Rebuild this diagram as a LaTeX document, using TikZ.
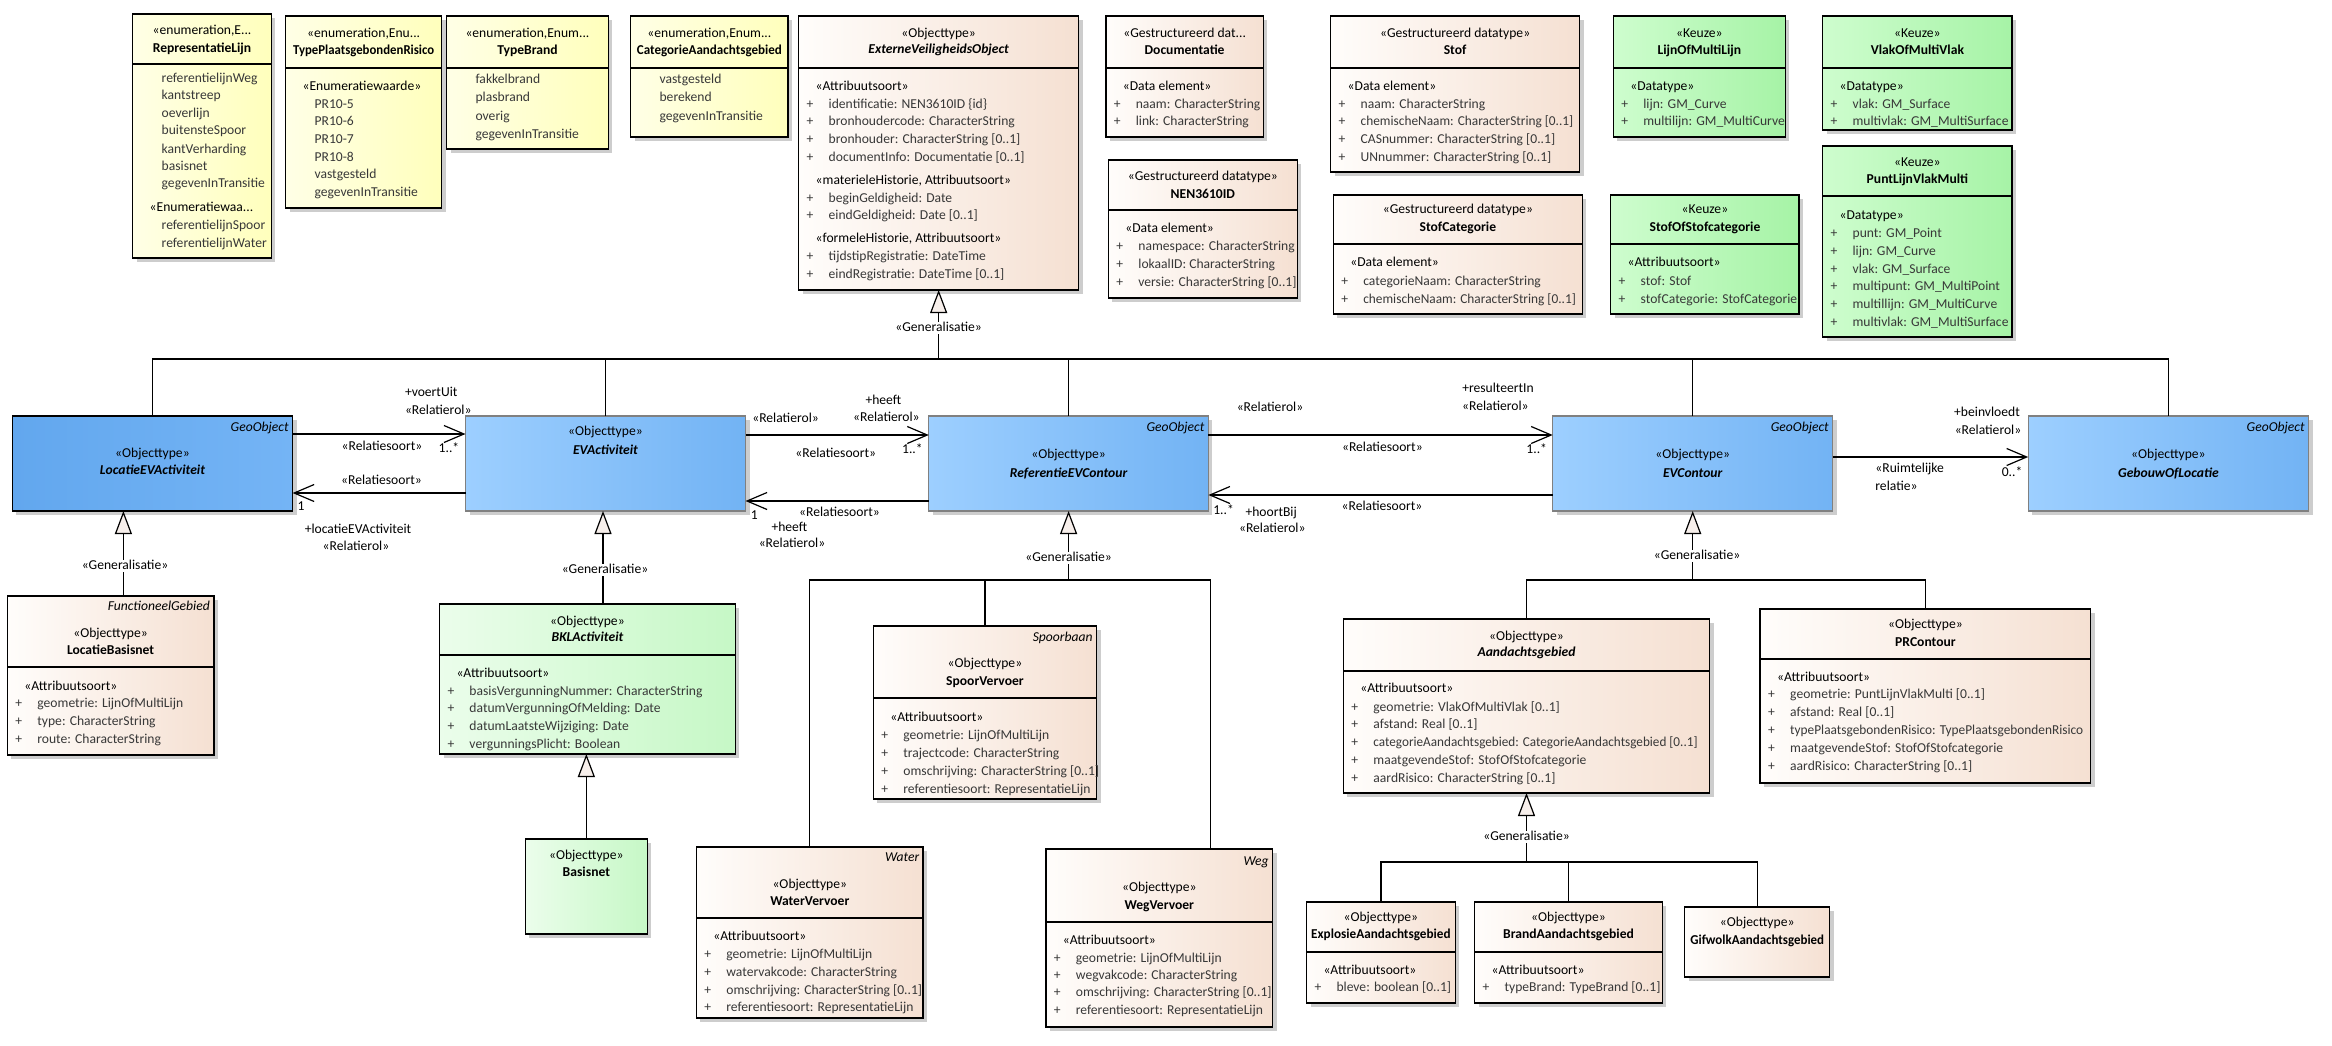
\documentclass[tikz,border=0pt]{standalone}
\usepackage{fontspec}
\setmainfont{Carlito}
\usepackage{graphicx}
\usetikzlibrary{arrows.meta}
\definecolor{enumL}{HTML}{FFFFE6}
\definecolor{enumR}{HTML}{FFFFBC}
\definecolor{objL}{HTML}{FFFDFB}
\definecolor{objR}{HTML}{F5E0D2}
\definecolor{kL}{HTML}{CEFDCE}
\definecolor{kR}{HTML}{A6F3A6}
\definecolor{bL}{HTML}{EBFDEB}
\definecolor{bR}{HTML}{C6F8C6}
\definecolor{blL}{HTML}{9DCFFF}
\definecolor{blR}{HTML}{72B3F4}
\definecolor{lvL}{HTML}{62A7EE}
\definecolor{lvM}{HTML}{93C7FB}
\definecolor{lvR}{HTML}{74B4F5}
\definecolor{attrc}{HTML}{383838}
\definecolor{trif}{HTML}{F7EFEB}
\definecolor{shadowc}{HTML}{CDCDCD}
\newcommand\fs{\fontsize{13.6}{15}\selectfont}
\newcommand\Sq[2]{\scalebox{#1}[1]{#2}}
\newcounter{tn}
\newcommand\Tx[3]{\stepcounter{tn}\node[#1] (t\arabic{tn}) at #2 {#3};}
\newcommand\Cls[6]{\fill[shadowc] ({#2+4},{#3+4}) rectangle ({#4+4},{#5+4});
  \node[#6,minimum width={(#4-#2)*1pt},minimum height={(#5-#3)*1pt}] (#1) at (#2,#3) {};}
\newcommand\Dv[2]{\draw[divl] (#1.west |- 0,#2) -- (#1.east |- 0,#2);}
\newcommand\Hd[3]{\Tx{sttx}{(#1.center |- 0,#2)}{#3}}
\newcommand\Hb[3]{\Tx{sttx,font=\fs\bfseries}{(#1.center |- 0,#2)}{#3}}
\newcommand\Hi[3]{\Tx{sttx,font=\fs\bfseries\itshape}{(#1.center |- 0,#2)}{#3}}
\newcommand\Hg[3]{\Tx{sttx,font=\fs\itshape,anchor=east,xshift=-4pt}{(#1.east |- 0,#2)}{#3}}
\newcommand\Bs[3]{\Tx{sttx,anchor=west,xshift=17pt}{(#1.west |- 0,#2)}{#3}}
\newcommand\Ba[3]{\Tx{attx,anchor=west,xshift=8pt}{(#1.west |- 0,#2)}{\makebox[22pt][l]{+}#3}}
\newcommand\Be[3]{\Tx{attx,anchor=west,xshift=29pt}{(#1.west |- 0,#2)}{#3}}
\newcommand\Lb[3]{\Tx{sttx}{(#1,#2)}{#3}}
\newcommand\Lw[3]{\Tx{sttx,anchor=west}{(#1,#2)}{#3}}
\newcommand\Gl[2]{\Tx{sttx,fill=white,inner xsep=2pt}{#1}{#2}}
\tikzset{
  sttx/.style={font=\fs,text=black,inner sep=0pt,outer sep=0pt,text height=9.5pt,text depth=2.5pt},
  attx/.style={sttx,text=attrc},
  box/.style={draw=black,line width=1.5pt,inner sep=0pt,outer sep=0pt,anchor=north west},
  enumc/.style={box,left color=enumL,right color=enumR},
  objc/.style={box,left color=objL,right color=objR},
  keuzec/.style={box,left color=kL,right color=kR},
  bklc/.style={box,left color=bL,right color=bR},
  bluec/.style={box,draw=black!50,line width=1.2pt,left color=blL,right color=blR},
  lvc/.style={box,left color=lvL,middle color=lvM,right color=lvR},
  divl/.style={line width=1.5pt},
  genl/.style={line width=1.2pt},
  gent/.style={genl,-{Triangle[length=23pt,width=17pt,fill=trif,line width=1.2pt]}},
  assoc/.style={line width=1.2pt,-{Straight Barb[length=20pt,width=17pt,line width=1.2pt]}}
}
\begin{document}
\begin{tikzpicture}[x=1pt,y=-1pt]
\fill[white] (0,0) rectangle (2332,1045);
\path[use as bounding box] (0,0) rectangle (2332,1045);

% ---------- top row ----------
\Cls{RL}{132.7}{14}{271.4}{258}{enumc}
\Dv{RL}{64}
\Hd{RL}{31}{«enumeration,E...}
\Hb{RL}{49}{RepresentatieLijn}
\Be{RL}{79}{referentielijnWeg}
\Be{RL}{96}{kantstreep}
\Be{RL}{114}{oeverlijn}
\Be{RL}{131}{buitensteSpoor}
\Be{RL}{150}{kantVerharding}
\Be{RL}{167}{basisnet}
\Be{RL}{184}{gegevenInTransitie}
\Bs{RL}{208}{«Enumeratiewaa...}
\Be{RL}{226}{referentielijnSpoor}
\Be{RL}{244}{referentielijnWater}

\Cls{TPR}{285.6}{16}{441.7}{208}{enumc}
\Dv{TPR}{68}
\Hd{TPR}{34}{«enumeration,Enu...}
\Hb{TPR}{51}{\Sq{0.94}{TypePlaatsgebondenRisico}}
\Bs{TPR}{87}{«Enumeratiewaarde»}
\Be{TPR}{105}{PR10-5}
\Be{TPR}{122}{PR10-6}
\Be{TPR}{140}{PR10-7}
\Be{TPR}{158}{PR10-8}
\Be{TPR}{175}{vastgesteld}
\Be{TPR}{193}{gegevenInTransitie}

\Cls{TB}{446.6}{16}{608.3}{149}{enumc}
\Dv{TB}{68}
\Hd{TB}{34}{«enumeration,Enum...}
\Hb{TB}{51}{TypeBrand}
\Be{TB}{80}{fakkelbrand}
\Be{TB}{98}{plasbrand}
\Be{TB}{117}{overig}
\Be{TB}{135}{gegevenInTransitie}

\Cls{CAG}{630.6}{16}{788.2}{137}{enumc}
\Dv{CAG}{68}
\Hd{CAG}{34}{«enumeration,Enum...}
\Hb{CAG}{51}{\Sq{0.96}{CategorieAandachtsgebied}}
\Be{CAG}{80}{vastgesteld}
\Be{CAG}{98}{berekend}
\Be{CAG}{117}{gegevenInTransitie}

\Cls{EVO}{798.7}{16}{1078.6}{290}{objc}
\Dv{EVO}{68}
\Hd{EVO}{34}{«Objecttype»}
\Hi{EVO}{50}{ExterneVeiligheidsObject}
\Bs{EVO}{87}{«Attribuutsoort»}
\Ba{EVO}{105}{identificatie: NEN3610ID \{id\}}
\Ba{EVO}{122}{bronhoudercode: CharacterString}
\Ba{EVO}{140}{bronhouder: CharacterString [0..1]}
\Ba{EVO}{158}{documentInfo: Documentatie [0..1]}
\Bs{EVO}{181}{«materieleHistorie, Attribuutsoort»}
\Ba{EVO}{199}{beginGeldigheid: Date}
\Ba{EVO}{216}{eindGeldigheid: Date [0..1]}
\Bs{EVO}{239}{«formeleHistorie, Attribuutsoort»}
\Ba{EVO}{257}{tijdstipRegistratie: DateTime}
\Ba{EVO}{275}{eindRegistratie: DateTime [0..1]}

\Cls{DOC}{1105.8}{16}{1263.4}{137}{objc}
\Dv{DOC}{68}
\Hd{DOC}{34}{«Gestructureerd dat...}
\Hb{DOC}{51}{Documentatie}
\Bs{DOC}{87}{«Data element»}
\Ba{DOC}{105}{naam: CharacterString}
\Ba{DOC}{122}{link: CharacterString}

\Cls{NEN}{1108.4}{160}{1297.3}{298}{objc}
\Dv{NEN}{210}
\Hd{NEN}{177}{«Gestructureerd datatype»}
\Hb{NEN}{195}{NEN3610ID}
\Bs{NEN}{229}{«Data element»}
\Ba{NEN}{247}{namespace: CharacterString}
\Ba{NEN}{265}{lokaalID: CharacterString}
\Ba{NEN}{283}{versie: CharacterString [0..1]}

\Cls{STOF}{1330.7}{16}{1579.5}{172}{objc}
\Dv{STOF}{68}
\Hd{STOF}{34}{«Gestructureerd datatype»}
\Hb{STOF}{51}{Stof}
\Bs{STOF}{87}{«Data element»}
\Ba{STOF}{105}{naam: CharacterString}
\Ba{STOF}{122}{\Sq{0.98}{chemischeNaam: CharacterString [0..1]}}
\Ba{STOF}{140}{CASnummer: CharacterString [0..1]}
\Ba{STOF}{158}{UNnummer: CharacterString [0..1]}

\Cls{SC}{1333.3}{195}{1582.4}{314}{objc}
\Dv{SC}{244}
\Hd{SC}{210}{«Gestructureerd datatype»}
\Hb{SC}{228}{StofCategorie}
\Bs{SC}{263}{«Data element»}
\Ba{SC}{282}{categorieNaam: CharacterString}
\Ba{SC}{300}{\Sq{0.98}{chemischeNaam: CharacterString [0..1]}}

\Cls{LML}{1613.3}{16}{1785.4}{137}{keuzec}
\Dv{LML}{68}
\Hd{LML}{34}{«Keuze»}
\Hb{LML}{51}{LijnOfMultiLijn}
\Bs{LML}{87}{«Datatype»}
\Ba{LML}{105}{lijn: GM\_Curve}
\Ba{LML}{122}{multilijn: GM\_MultiCurve}

\Cls{SOS}{1610.7}{195}{1799.2}{314}{keuzec}
\Dv{SOS}{244}
\Hd{SOS}{210}{«Keuze»}
\Hb{SOS}{228}{StofOfStofcategorie}
\Bs{SOS}{263}{«Attribuutsoort»}
\Ba{SOS}{282}{stof: Stof}
\Ba{SOS}{300}{stofCategorie: StofCategorie}

\Cls{VMV}{1822.6}{16}{2012.2}{130}{keuzec}
\Dv{VMV}{68}
\Hd{VMV}{34}{«Keuze»}
\Hb{VMV}{51}{VlakOfMultiVlak}
\Bs{VMV}{87}{«Datatype»}
\Ba{VMV}{105}{vlak: GM\_Surface}
\Ba{VMV}{122}{multivlak: GM\_MultiSurface}

\Cls{PLVM}{1822.6}{146}{2012.2}{337}{keuzec}
\Dv{PLVM}{196}
\Hd{PLVM}{163}{«Keuze»}
\Hb{PLVM}{180}{PuntLijnVlakMulti}
\Bs{PLVM}{216}{«Datatype»}
\Ba{PLVM}{234}{punt: GM\_Point}
\Ba{PLVM}{252}{lijn: GM\_Curve}
\Ba{PLVM}{270}{vlak: GM\_Surface}
\Ba{PLVM}{287}{multipunt: GM\_MultiPoint}
\Ba{PLVM}{305}{multillijn: GM\_MultiCurve}
\Ba{PLVM}{323}{multivlak: GM\_MultiSurface}

% ---------- middle row (blue) ----------
\Cls{LEV}{12.3}{416}{292.6}{511}{lvc}
\Hg{LEV}{428}{GeoObject}
\Hd{LEV}{454}{«Objecttype»}
\Hi{LEV}{471}{LocatieEVActiviteit}

\Cls{EVA}{465.5}{416}{745.5}{511}{bluec}
\Hd{EVA}{432}{«Objecttype»}
\Hi{EVA}{451}{EVActiviteit}

\Cls{REF}{928.8}{416}{1208.4}{511}{bluec}
\Hg{REF}{428}{GeoObject}
\Hd{REF}{455}{«Objecttype»}
\Hi{REF}{474}{ReferentieEVContour}

\Cls{EVC}{1552.7}{416}{1832.7}{511}{bluec}
\Hg{EVC}{428}{GeoObject}
\Hd{EVC}{455}{«Objecttype»}
\Hi{EVC}{474}{EVContour}

\Cls{GEB}{2028.2}{416}{2308.6}{511}{bluec}
\Hg{GEB}{428}{GeoObject}
\Hd{GEB}{455}{«Objecttype»}
\Hi{GEB}{474}{GebouwOfLocatie}

% ---------- lower classes ----------
\Cls{LB}{7.4}{596}{213.8}{755}{objc}
\Dv{LB}{667}
\Hg{LB}{607}{FunctioneelGebied}
\Hd{LB}{634}{«Objecttype»}
\Hb{LB}{651}{LocatieBasisnet}
\Bs{LB}{687}{«Attribuutsoort»}
\Ba{LB}{704}{geometrie: LijnOfMultiLijn}
\Ba{LB}{722}{type: CharacterString}
\Ba{LB}{740}{route: CharacterString}

\Cls{BKL}{439.5}{604}{735.4}{754}{bklc}
\Dv{BKL}{655}
\Hd{BKL}{622}{«Objecttype»}
\Hi{BKL}{638}{BKLActiviteit}
\Bs{BKL}{674}{«Attribuutsoort»}
\Ba{BKL}{692}{basisVergunningNummer: CharacterString}
\Ba{BKL}{709}{datumVergunningOfMelding: Date}
\Ba{BKL}{727}{datumLaatsteWijziging: Date}
\Ba{BKL}{745}{vergunningsPlicht: Boolean}

\Cls{BAS}{525.4}{839}{647.3}{934}{bklc}
\Hd{BAS}{856}{«Objecttype»}
\Hb{BAS}{873}{Basisnet}

\Cls{SPV}{873.4}{626}{1096.5}{799}{objc}
\Dv{SPV}{698}
\Hg{SPV}{638}{Spoorbaan}
\Hd{SPV}{664}{«Objecttype»}
\Hb{SPV}{682}{SpoorVervoer}
\Bs{SPV}{718}{«Attribuutsoort»}
\Ba{SPV}{736}{geometrie: LijnOfMultiLijn}
\Ba{SPV}{754}{trajectcode: CharacterString}
\Ba{SPV}{772}{omschrijving: CharacterString [0..1]}
\Ba{SPV}{790}{referentiesoort: RepresentatieLijn}

\Cls{WAV}{696.4}{847}{923.2}{1018}{objc}
\Dv{WAV}{918}
\Hg{WAV}{858}{Water}
\Hd{WAV}{885}{«Objecttype»}
\Hb{WAV}{902}{WaterVervoer}
\Bs{WAV}{937}{«Attribuutsoort»}
\Ba{WAV}{955}{geometrie: LijnOfMultiLijn}
\Ba{WAV}{973}{watervakcode: CharacterString}
\Ba{WAV}{991}{omschrijving: CharacterString [0..1]}
\Ba{WAV}{1008}{referentiesoort: RepresentatieLijn}

\Cls{WGV}{1045.9}{849}{1272.7}{1027}{objc}
\Dv{WGV}{922}
\Hg{WGV}{862}{Weg}
\Hd{WGV}{888}{«Objecttype»}
\Hb{WGV}{906}{WegVervoer}
\Bs{WGV}{941}{«Attribuutsoort»}
\Ba{WGV}{959}{geometrie: LijnOfMultiLijn}
\Ba{WGV}{976}{wegvakcode: CharacterString}
\Ba{WGV}{993}{omschrijving: CharacterString [0..1]}
\Ba{WGV}{1011}{referentiesoort: RepresentatieLijn}

\Cls{AG}{1343.4}{619}{1709.6}{793}{objc}
\Dv{AG}{671}
\Hd{AG}{637}{«Objecttype»}
\Hi{AG}{653}{Aandachtsgebied}
\Bs{AG}{689}{«Attribuutsoort»}
\Ba{AG}{708}{geometrie: VlakOfMultiVlak [0..1]}
\Ba{AG}{725}{afstand: Real [0..1]}
\Ba{AG}{743}{\Sq{0.97}{categorieAandachtsgebied: CategorieAandachtsgebied [0..1]}}
\Ba{AG}{761}{maatgevendeStof: StofOfStofcategorie}
\Ba{AG}{779}{aardRisico: CharacterString [0..1]}

\Cls{PRC}{1760.2}{609}{2090.7}{783}{objc}
\Dv{PRC}{659}
\Hd{PRC}{625}{«Objecttype»}
\Hb{PRC}{643}{PRContour}
\Bs{PRC}{678}{«Attribuutsoort»}
\Ba{PRC}{695}{geometrie: PuntLijnVlakMulti [0..1]}
\Ba{PRC}{713}{afstand: Real [0..1]}
\Ba{PRC}{731}{\Sq{0.98}{typePlaatsgebondenRisico: TypePlaatsgebondenRisico}}
\Ba{PRC}{749}{maatgevendeStof: StofOfStofcategorie}
\Ba{PRC}{767}{aardRisico: CharacterString [0..1]}

\Cls{EXP}{1306.5}{902}{1455.3}{1003}{objc}
\Dv{EXP}{952}
\Hd{EXP}{918}{«Objecttype»}
\Hb{EXP}{935}{\Sq{0.97}{ExplosieAandachtsgebied}}
\Bs{EXP}{971}{«Attribuutsoort»}
\Ba{EXP}{988}{bleve: boolean [0..1]}

\Cls{BRD}{1474.6}{902}{1662.4}{1003}{objc}
\Dv{BRD}{952}
\Hd{BRD}{918}{«Objecttype»}
\Hb{BRD}{935}{BrandAandachtsgebied}
\Bs{BRD}{971}{«Attribuutsoort»}
\Ba{BRD}{988}{typeBrand: TypeBrand [0..1]}

\Cls{GIF}{1684.7}{907}{1829.7}{977}{objc}
\Hd{GIF}{923}{«Objecttype»}
\Hb{GIF}{941}{\Sq{0.95}{GifwolkAandachtsgebied}}

% ---------- generalisations ----------
\coordinate (b1L) at (LEV.north |- 0,359);
\coordinate (b1R) at (GEB.north |- 0,359);
\draw[genl] (LEV.north) -- (b1L) -- (b1R) -- (GEB.north);
\draw[genl] (EVA.north) -- (EVA.north |- b1L);
\draw[genl] (REF.north) -- (REF.north |- b1L);
\draw[genl] (EVC.north) -- (EVC.north |- b1L);
\draw[gent] (EVO.south |- b1L) -- (EVO.south);
\Gl{(EVO.south |- 0,328)}{«Generalisatie»}

\coordinate (g2) at (123.4,0);
\draw[gent] (LB.north -| g2) -- (LEV.south -| g2);
\Gl{(125,566)}{«Generalisatie»}

\coordinate (g3) at (603,0);
\draw[gent] (BKL.north -| g3) -- (EVA.south -| g3);
\Gl{(605,570)}{«Generalisatie»}

\draw[gent] (BAS.north) -- (BKL.south -| BAS.north);

\coordinate (b5L) at (WAV.north |- 0,580);
\coordinate (b5R) at (1210.2,580);
\draw[genl] (WAV.north) -- (b5L) -- (b5R) -- (WGV.north -| b5R);
\draw[genl] (SPV.north) -- (SPV.north |- b5L);
\draw[gent] (REF.south |- b5L) -- (REF.south);
\Gl{(REF.south |- 0,558)}{«Generalisatie»}

\coordinate (b6L) at (AG.north |- 0,580);
\coordinate (b6R) at (PRC.north |- 0,580);
\draw[genl] (AG.north) -- (b6L) -- (b6R) -- (PRC.north);
\draw[gent] (EVC.south |- b6L) -- (EVC.south);
\Gl{(1697,556)}{«Generalisatie»}

\coordinate (b7L) at (EXP.north |- 0,862);
\coordinate (b7R) at (GIF.north |- 0,862);
\draw[genl] (EXP.north) -- (b7L) -- (b7R) -- (GIF.north);
\draw[genl] (BRD.north) -- (BRD.north |- b7L);
\draw[gent] (AG.south |- b7L) -- (AG.south);
\Gl{(AG.south |- 0,837)}{«Generalisatie»}

% ---------- associations ----------
\draw[assoc] (LEV.east |- 0,434) -- (EVA.west |- 0,434);
\draw[assoc] (EVA.west |- 0,493) -- (LEV.east |- 0,493);
\draw[assoc] (EVA.east |- 0,435) -- (REF.west |- 0,435);
\draw[assoc] (REF.west |- 0,501) -- (EVA.east |- 0,501);
\draw[assoc] (REF.east |- 0,435) -- (EVC.west |- 0,435);
\draw[assoc] (EVC.west |- 0,495) -- (REF.east |- 0,495);
\draw[assoc] (EVC.east |- 0,457) -- (GEB.west |- 0,457);

% labels LEV <-> EVA
\Lw{405}{393}{+voertUit}
\Lw{405}{411}{«Relatierol»}
\Lb{382}{447}{«Relatiesoort»}
\Lb{449}{449}{1..*}
\Lb{381.5}{481}{«Relatiesoort»}
\Lb{301}{507}{1}
\Lb{358}{530}{+locatieEVActiviteit}
\Lb{356}{547}{«Relatierol»}
% labels EVA <-> REF
\Lb{785.6}{419}{«Relatierol»}
\Lb{883.4}{401}{+heeft}
\Lb{886.4}{418}{«Relatierol»}
\Lb{835.8}{454}{«Relatiesoort»}
\Lb{912.4}{450}{1..*}
\Lb{754.4}{516}{1}
\Lb{839.5}{513}{«Relatiesoort»}
\Lb{789.4}{528}{+heeft}
\Lb{792}{544}{«Relatierol»}
% labels REF <-> EVC
\Lb{1270}{408}{«Relatierol»}
\Lb{1498}{389}{+resulteertIn}
\Lb{1495.4}{407}{«Relatierol»}
\Lb{1382.4}{448}{«Relatiesoort»}
\Lb{1536.7}{450}{1..*}
\Lb{1223.6}{511}{1..*}
\Lb{1271.2}{513}{+hoortBij}
\Lb{1272.3}{529}{«Relatierol»}
\Lb{1382}{507}{«Relatiesoort»}
% labels EVC -> GEB
\Lb{1987}{413}{+beinvloedt}
\Lb{1988}{431}{«Relatierol»}
\Lw{1875.4}{469}{«Ruimtelijke}
\Lw{1875.4}{487}{relatie»}
\Lb{2012}{473}{0..*}
\end{tikzpicture}
\end{document}
